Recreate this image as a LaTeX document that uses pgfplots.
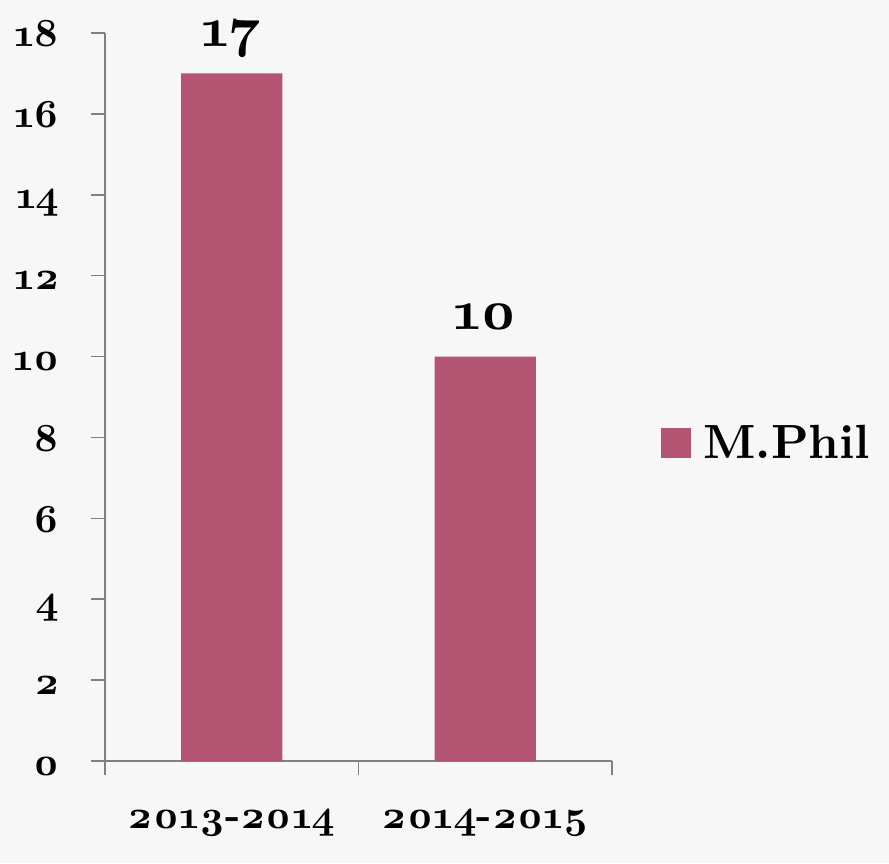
\documentclass[border=0pt]{standalone}
\usepackage{fontspec}
\setmainfont{lmroman10-regular.otf}[BoldFont=lmroman10-bold.otf, Numbers=OldStyle]
\usepackage{pgfplots}
\pgfplotsset{compat=1.18}
\definecolor{barc}{RGB}{180,84,115}
\definecolor{bgc}{RGB}{247,247,247}
\definecolor{axc}{RGB}{128,128,128}
\begin{document}
\begin{tikzpicture}[x=1pt,y=1pt]
\fill[bgc] (0,0) rectangle (889,863);
\begin{axis}[
  at={(105pt,102pt)}, anchor=south west,
  scale only axis, width=507pt, height=728pt,
  xmin=-0.5, xmax=1.5, ymin=0, ymax=18,
  axis x line*=bottom, axis y line*=left,
  axis line style={axc, line width=1.5pt, -},
  tick style={axc, line width=1.5pt},
  major tick length=14pt, tick align=outside,
  ytick={0,2,4,6,8,10,12,14,16,18},
  yticklabels={0,2,4,6,8,10,12,14,16,18},
  yticklabel style={font=\bfseries\fontsize{40}{44}\selectfont, anchor=base east, inner sep=0pt, xshift=-31pt, yshift=-14pt},
  xtick={-0.5,0.5,1.5}, xticklabels={},
  extra x ticks={0,1},
  extra x tick labels={2013-2014,2014-2015},
  extra x tick style={major tick length=0pt},
  xticklabel style={font=\bfseries\fontsize{40}{44}\selectfont, anchor=base, inner sep=0pt, yshift=-67pt},
  ybar, bar width=0.4,
  legend style={at={(1.097,0.437)}, anchor=west, draw=none, fill=none,
    font=\bfseries\fontsize{48}{52}\selectfont, inner sep=0pt, legend cell align=left},
  clip=false,
]
\addplot[fill=barc, draw=none, bar shift=0pt,
  point meta=explicit symbolic,
  nodes near coords={\pgfplotspointmeta},
  nodes near coords style={anchor=base, inner sep=0pt, yshift=27pt, font=\bfseries\fontsize{56}{60}\selectfont, text=black},
  legend image code/.code={\fill[barc] (0pt,-15pt) rectangle (30pt,15pt); \path (40pt,0pt);}]
  coordinates {(0,17) [17] (1,10) [10]};
\addlegendentry{M.Phil}
\end{axis}
\end{tikzpicture}
\end{document}
